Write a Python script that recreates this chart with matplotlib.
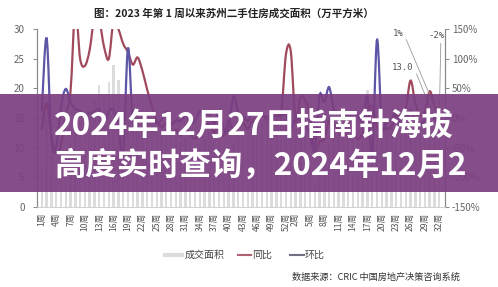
import matplotlib
matplotlib.use("Agg")
import matplotlib.pyplot as plt
from matplotlib.path import Path
from matplotlib.patches import PathPatch, Rectangle
from matplotlib.lines import Line2D

plt.rcParams['font.family'] = ['Noto Sans CJK SC', 'DejaVu Sans']

# Weekly second-hand housing transactions in Suzhou, 2023 W1 – 2024 W32
weeks_2023 = list(range(1, 53))
weeks_2024 = list(range(1, 33))
week_labels = [f"{w}周" for w in weeks_2023 + weeks_2024]

# 成交面积 (万平方米)
area = [6.4, 15.0, 9.5, 4.8, 5.7, 8.5, 10.8, 12.5, 14.0, 15.0,
        16.2, 18.0, 20.6, 19.0, 21.1, 24.0, 21.4, 8.5, 18.5, 17.2,
        16.5, 15.8, 14.6, 13.8, 12.6, 12.2, 13.4, 12.1, 11.6, 11.0,
        11.7, 10.6, 10.1, 11.2, 12.0, 12.6, 11.3, 12.4, 10.0, 8.1,
        11.0, 12.1, 12.6, 12.0, 13.1, 13.6, 14.2, 14.5, 15.1, 15.6,
        16.2, 17.1,
        13.6, 14.1, 13.4, 12.0, 8.6, 4.0, 5.5, 7.0, 10.6, 12.1,
        13.0, 13.6, 14.1, 14.6, 15.2, 14.2, 19.8, 7.5, 17.4, 15.1,
        14.6, 14.0, 15.6, 14.1, 13.6, 15.4, 14.6, 13.1, 12.6, 13.6,
        13.3, 13.0]

# 同比 (%)
yoy = [-20, 25, -30, -60, -45, 5, 45, 185, 100, 88,
       115, 170, 165, 120, 100, 165, 150, 125, 111, 90,
       102, 80, 48, 20, -5, -15, -10, -25, -20, -30,
       -18, -28, -35, -22, -15, -10, -25, -12, -30, -5,
       -20, -15, -8, -18, -5, 0, 5, -3, 2, 8,
       10, 108,
       112, -6, 35, 30, 5, -55, -40, -35, -5, -10,
       -20, -25, -30, -28, -35, -25, 10, 20, -15, -20,
       -18, -15, 5, 0, 15, 63, 25, 5, 10, 45,
       20, 1]

# 环比 (%)
wow = [12, 135, -37, -49, 19, 49, 27, 16, 12, 7,
       8, 11, 14, -8, 11, 14, -11, -60, 118, -7,
       -4, -4, -8, -5, -9, -3, 10, -10, -4, -5,
       6, -9, -5, 11, 7, 5, -10, 10, -19, -19,
       36, 10, 4, -5, 9, 4, 4, 2, 4, 3,
       4, 6,
       -20, 4, -5, -10, -28, -53, 38, 27, 52, 14,
       7, 5, 4, 4, 4, -7, 35, -62, 132, -13,
       -3, -4, 11, -10, -4, 13, -5, -10, -4, 8,
       -2, -2]

left_ticks = [0, 5, 10, 15, 20, 25, 30]
right_ticks = [-150, -100, -50, 0, 50, 100, 150]

W, H = 498, 287
fig = plt.figure(figsize=(W / 100, H / 100), dpi=100)
fig.patch.set_facecolor('white')


def fx(px):
    return px / W


def fy(py):
    return 1 - py / H


ax = fig.add_axes([fx(37), fy(207), fx(445) - fx(37), fy(29) - fy(207)])
ax2 = ax.twinx()

x = list(range(len(area)))
ax.bar(x, area, width=0.5, color='#dcdcdc', zorder=1)
ax.set_xlim(-1.0, 84.2)
ax.set_ylim(0, 30)
ax.set_yticks(left_ticks)
ax2.set_ylim(-150, 150)
ax2.set_yticks(right_ticks)
ax2.set_yticklabels([f"{t}%" for t in right_ticks])

tick_pos = list(range(0, 52, 3)) + list(range(53, 84, 3))
ax.set_xticks(tick_pos)
ax.set_xticklabels([week_labels[i] for i in tick_pos], rotation=90,
                   fontsize=6.2, color='#555555')
ax.tick_params(axis='x', length=0, pad=4)
ax.tick_params(axis='y', length=3, width=0.7, color='#888888',
               labelsize=7, labelcolor='#666666', pad=6)
ax2.tick_params(axis='y', length=3, width=0.7, color='#888888',
                labelsize=7, labelcolor='#666666', pad=2)

for a in (ax, ax2):
    a.spines['top'].set_visible(False)
    a.spines['left'].set_color('#888888')
    a.spines['right'].set_color('#888888')
    a.spines['bottom'].set_color('#d0d0d0')
    a.spines['left'].set_linewidth(0.8)
    a.spines['right'].set_linewidth(0.8)
    a.spines['bottom'].set_linewidth(0.6)
    a.patch.set_visible(False)


def smooth_path(xs, ys):
    n = len(xs)
    verts = [(xs[0], ys[0])]
    codes = [Path.MOVETO]
    for i in range(n - 1):
        a0 = i - 1 if i > 0 else i
        a3 = i + 2 if i + 2 < n else i + 1
        c1 = (xs[i] + (xs[i + 1] - xs[a0]) / 6, ys[i] + (ys[i + 1] - ys[a0]) / 6)
        c2 = (xs[i + 1] - (xs[a3] - xs[i]) / 6, ys[i + 1] - (ys[a3] - ys[i]) / 6)
        verts += [c1, c2, (xs[i + 1], ys[i + 1])]
        codes += [Path.CURVE4] * 3
    return Path(verts, codes)


red = '#a04a5c'
blue = '#5d56a6'
ax2.add_patch(PathPatch(smooth_path(x, yoy), facecolor='none', edgecolor=red,
                        lw=1.6, transform=ax2.transData, zorder=3))
ax2.add_patch(PathPatch(smooth_path(x, wow), facecolor='none', edgecolor=blue,
                        lw=1.6, transform=ax2.transData, zorder=4))
ax2.set_ylim(-150, 150)

# value callouts for the latest week
lead = dict(arrowstyle='-', color='#9a9a9a', lw=0.6, shrinkA=0, shrinkB=0)
ax2.annotate(f"{yoy[-1]}%", xy=(x[-1], yoy[-1]), xycoords='data',
             xytext=(398, H - 33), textcoords='figure pixels',
             ha='center', va='center', fontsize=6.5, color='#555555',
             family='DejaVu Sans Mono', arrowprops=dict(lead, relpos=(1, 0.5)))
ax2.annotate(f"{wow[-1]}%", xy=(x[-1], wow[-1]), xycoords='data',
             xytext=(436, H - 36), textcoords='figure pixels',
             ha='center', va='center', fontsize=6.5, color='#555555',
             family='DejaVu Sans Mono', arrowprops=dict(lead, relpos=(0.8, 0)))
ax.annotate(f"{area[-1]:.1f}", xy=(x[-1], area[-1]), xycoords='data',
            xytext=(403, H - 67), textcoords='figure pixels',
            ha='center', va='center', fontsize=6.5, color='#555555',
            family='DejaVu Sans Mono', arrowprops=dict(lead, relpos=(1, 0.5)))

# title
fig.text(fx(234), fy(13), "图：2023 年第 1 周以来苏州二手住房成交面积（万平方米）",
         ha='center', va='center', fontsize=7.6, fontweight='bold', color='#222222')

# legend
ly = fy(255)
for x0, x1, col, lw, label, tx in [
        (165, 182, '#dcdcdc', 3.0, '成交面积', 185),
        (238, 251, '#b06070', 1.5, '同比', 252),
        (290, 304, '#707084', 1.5, '环比', 305)]:
    fig.add_artist(Line2D([fx(x0), fx(x1)], [ly, ly], transform=fig.transFigure,
                          color=col, lw=lw))
    fig.text(fx(tx), ly, label, ha='left', va='center', fontsize=7.2, color='#444444')

fig.text(fx(376), fy(277), "数据来源：CRIC 中国房地产决策咨询系统",
         ha='center', va='center', fontsize=6.6, color='#333333')

# headline banner across the chart
fig.add_artist(Rectangle((0, fy(192)), 1, fy(94) - fy(192), transform=fig.transFigure,
                         facecolor='#7b3f80', alpha=0.92, edgecolor='none', zorder=10))
fig.text(fx(54), fy(127), "2024年12月27日指南针海拔", ha='left', va='center',
         fontsize=22.6, fontweight='bold', color='white', zorder=11)
fig.text(fx(54), fy(166), "高度实时查询，2024年12月2", ha='left', va='center',
         fontsize=22.6, fontweight='bold', color='white', zorder=11)

fig.savefig('out.png', dpi=100)
